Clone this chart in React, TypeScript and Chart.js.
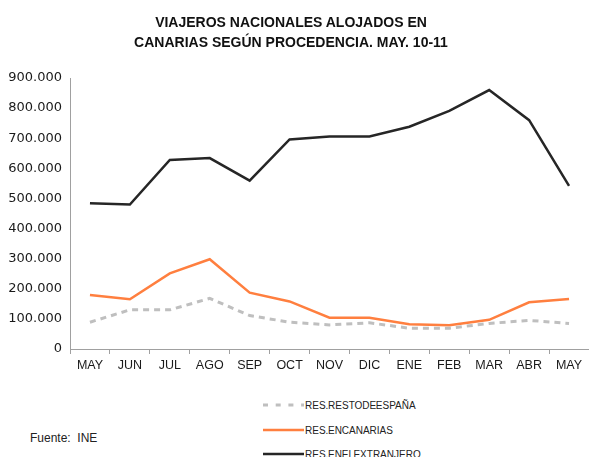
import React, { useEffect, useRef } from "react";
import { Chart, registerables } from "chart.js";
Chart.register(...registerables);

const categories = ["MAY", "JUN", "JUL", "AGO", "SEP", "OCT", "NOV", "DIC", "ENE", "FEB", "MAR", "ABR", "MAY"];
const restoEspana = [89000, 130000, 130000, 168000, 111000, 89000, 80000, 87000, 69000, 69000, 85000, 95000, 85000];
const enCanarias = [179000, 165000, 251000, 298000, 187000, 158000, 104000, 104000, 82000, 79000, 97000, 155000, 166000];
const enExtranjero = [484000, 480000, 628000, 634000, 559000, 696000, 706000, 706000, 738000, 791000, 860000, 760000, 542000];
const seriesNames = ["RES. RESTO DE ESPAÑA", "RES. EN CANARIAS", "RES. EN EL EXTRANJERO"];
const titleLines = ["VIAJEROS NACIONALES ALOJADOS EN", "CANARIAS SEGÚN PROCEDENCIA. MAY. 10-11"];
const sourceText = "Fuente:  INE";

const FONT = "'Liberation Sans', Arial, sans-serif";
const YFONT = "'DejaVu Sans', Verdana, sans-serif";
const COLORS = ["#bfbfbf", "#ff7f3f", "#262626"];

function fmt(v: number): string {
  return Math.round(v).toString().replace(/\B(?=(\d{3})+(?!\d))/g, ".");
}

export default function App() {
  const ref = useRef<HTMLCanvasElement>(null);
  useEffect(() => {
    if (!ref.current) return;
    const chart = new Chart(ref.current, {
      type: "line",
      data: {
        labels: categories,
        datasets: [
          { label: seriesNames[0], data: restoEspana, borderColor: COLORS[0], borderWidth: 3, borderDash: [6, 5], pointRadius: 0, tension: 0, fill: false, borderCapStyle: "butt" },
          { label: seriesNames[1], data: enCanarias, borderColor: COLORS[1], borderWidth: 2.5, pointRadius: 0, tension: 0, fill: false },
          { label: seriesNames[2], data: enExtranjero, borderColor: COLORS[2], borderWidth: 2.5, pointRadius: 0, tension: 0, fill: false },
        ],
      },
      options: {
        responsive: false,
        animation: false,
        layout: { padding: { top: 78, left: 0, right: 0, bottom: 0 } },
        plugins: { legend: { display: false }, title: { display: false }, tooltip: { enabled: false } },
        scales: {
          x: {
            offset: true,
            grid: { display: true, drawOnChartArea: false, drawTicks: true, tickLength: 5, color: "#a0a0a0", offset: true },
            border: { display: true, color: "#a0a0a0", width: 1 },
            ticks: { color: "#1a1a1a", font: { family: FONT, size: 12.5 }, padding: 4, maxRotation: 0, autoSkip: false },
            afterFit: (s: any) => { s.height = 30; },
          },
          y: {
            min: 0,
            max: 900000,
            grid: { display: false, drawTicks: false },
            border: { display: true, color: "#a0a0a0", width: 1 },
            ticks: { stepSize: 100000, color: "#1a1a1a", font: { family: YFONT, size: 13 }, padding: 8, callback: (v: any) => fmt(Number(v)) },
            afterFit: (s: any) => { s.width = 70; },
          },
        },
      },
    });
    return () => chart.destroy();
  }, []);

  const legendRow = (i: number, top: number) => (
    <div key={i} style={{ position: "absolute", left: 263, top: top - 8, height: 16, display: "flex", alignItems: "center" }}>
      <svg width={41} height={6} style={{ display: "block" }}>
        <line x1={0} y1={3} x2={41} y2={3} stroke={COLORS[i]} strokeWidth={i === 0 ? 3 : 2.5} strokeDasharray={i === 0 ? "5 7.7" : undefined} />
      </svg>
      <span style={{ fontFamily: FONT, fontSize: 10, color: "#222", marginLeft: 1, wordSpacing: -3, whiteSpace: "nowrap" }}>{seriesNames[i]}</span>
    </div>
  );

  return (
    <div style={{ position: "absolute", left: 0, top: 0, width: 589, height: 457, overflow: "hidden", background: "#fff" }}>
      <canvas ref={ref} width={589} height={379} style={{ position: "absolute", left: 0, top: 0, width: 589, height: 379 }} />
      <div style={{ position: "absolute", left: 0, top: 12, width: 582, textAlign: "center", fontFamily: FONT, fontWeight: "bold", fontSize: 14, lineHeight: "20px", color: "#111" }}>
        <div>{titleLines[0]}</div>
        <div>{titleLines[1]}</div>
      </div>
      {legendRow(0, 405)}
      {legendRow(1, 430)}
      {legendRow(2, 454)}
      <div style={{ position: "absolute", left: 30, top: 431, fontFamily: FONT, fontSize: 12, color: "#222", whiteSpace: "pre" }}>{sourceText}</div>
    </div>
  );
}
